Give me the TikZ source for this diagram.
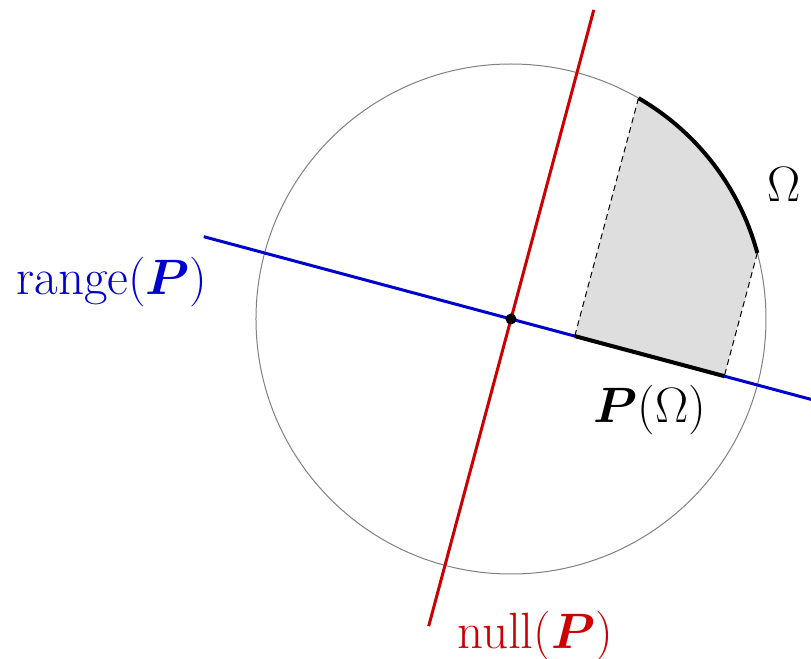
\documentclass[tikz,border=0pt]{standalone}
\usepackage{bm}
\usetikzlibrary{calc}
\definecolor{rangeblue}{RGB}{0,0,204}
\definecolor{nullred}{RGB}{204,0,0}
\definecolor{regiongray}{RGB}{222,222,222}
\tikzset{
  axisline/.style={line width=1.5pt},
  setarc/.style={line width=2pt,black},
  projline/.style={line width=0.5pt,dash pattern=on 3pt off 2pt},
  lbl/.style={inner sep=0pt,font=\fontsize{25.5}{30}\selectfont},
}
\begin{document}
\begin{tikzpicture}[x=0.5pt,y=0.5pt]
\useasboundingbox (-511,-340) rectangle (300,319);
\coordinate (O) at (0,0);
\coordinate (A) at (60:255);
\coordinate (B) at (15:255);
\coordinate (D) at (-15:100);
\coordinate (Ap) at ($(O)!(A)!(D)$);
\coordinate (Bp) at ($(O)!(B)!(D)$);
\coordinate (r1) at (165:318);
\coordinate (r2) at (-15:320);
\coordinate (n1) at (75:320);
\coordinate (n2) at (255:318);
\fill[fill=regiongray] (Ap) -- (A) arc[start angle=60,end angle=15,radius=255] -- (Bp) -- cycle;
\draw[gray,line width=0.5pt] (O) circle[radius=255];
\draw[axisline,rangeblue] (r1) -- (r2);
\draw[axisline,nullred] (n1) -- (n2);
\draw[projline] (A) -- (Ap);
\draw[projline] (B) -- (Bp);
\draw[setarc] (A) arc[start angle=60,end angle=15,radius=255];
\draw[setarc] (Ap) -- (Bp);
\fill (O) circle[radius=5.5];
\node[lbl,text=rangeblue] (rl) at (-399,37) {range$(\bm{P})$};
\node[lbl,text=nullred] (nl) at (24,-317) {null$(\bm{P})$};
\node[lbl] (om) at (273,134) {$\Omega$};
\node[lbl] (po) at (139,-91) {$\bm{P}(\Omega)$};
\end{tikzpicture}
\end{document}
